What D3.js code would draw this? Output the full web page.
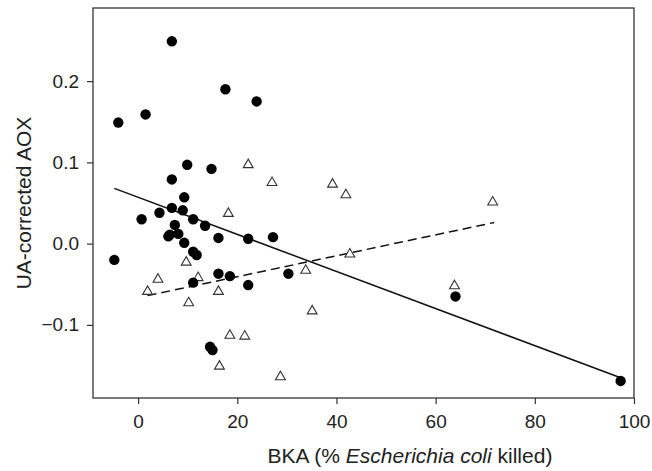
<!DOCTYPE html>
<html>
<head>
<meta charset="utf-8">
<script src="https://cdn.jsdelivr.net/npm/d3@7"></script>
<style>
    body { margin: 0; background: #fff; }
    svg { display: block; font-family: "Liberation Sans", Arial, sans-serif; }
</style>
</head>
<body>
<svg id="chart" width="652" height="471"></svg>
<script>
// Filled circles: [BKA %, UA-corrected AOX]
const circleData = [
    [6.8, 0.249], [17.6, 0.190], [23.9, 0.175], [-4.0, 0.149], [1.5, 0.159],
    [9.9, 0.097], [14.8, 0.092], [6.8, 0.079], [9.3, 0.057], [6.8, 0.044],
    [9.0, 0.041], [4.3, 0.038], [0.7, 0.030], [11.1, 0.030], [13.5, 0.022],
    [7.4, 0.023], [16.2, 0.007], [22.2, 0.006], [27.2, 0.008], [6.4, 0.011],
    [6.1, 0.009], [8.1, 0.012], [9.3, 0.001], [11.1, -0.010], [11.8, -0.014],
    [-4.8, -0.020], [16.2, -0.037], [18.5, -0.040], [11.1, -0.048], [22.2, -0.051],
    [30.3, -0.037], [14.5, -0.127], [15.0, -0.131], [64.0, -0.065], [97.3, -0.169]
];

// Open triangles
const triangleData = [
    [22.2, 0.097], [27.0, 0.075], [18.2, 0.037], [39.2, 0.073], [41.9, 0.060],
    [71.5, 0.051], [9.7, -0.023], [4.0, -0.044], [1.9, -0.059], [12.1, -0.042],
    [16.2, -0.059], [10.2, -0.073], [33.8, -0.033], [35.1, -0.083], [18.5, -0.113],
    [21.5, -0.114], [16.4, -0.151], [28.7, -0.164], [42.7, -0.013], [63.8, -0.052]
];

// Regression lines (end points)
const solidFit = [[-4.8, 0.068], [97.3, -0.165]];
const dashedFit = [[1.9, -0.064], [71.8, 0.026]];

const xTicks = [0, 20, 40, 60, 80, 100];
const yTicks = [-0.1, 0.0, 0.1, 0.2];

const svg = d3.select('#chart');
const plotLeft = 93, plotRight = 634, plotTop = 8, plotBottom = 398;

const x = d3.scaleLinear().domain([-9.1, 100]).range([plotLeft, plotRight]);
const y = d3.scaleLinear().domain([-0.19, 0.29]).range([plotBottom, plotTop]);

// Frame
svg.append('rect')
    .attr('x', plotLeft).attr('y', plotTop)
    .attr('width', plotRight - plotLeft).attr('height', plotBottom - plotTop)
    .attr('fill', 'none')
    .attr('stroke', '#333')
    .attr('stroke-width', 1.3);

// Axes
const xAxis = svg.append('g')
    .attr('transform', 'translate(0,' + plotBottom + ')')
    .call(d3.axisBottom(x).tickValues(xTicks).tickSize(6).tickPadding(11).tickFormat(d3.format('d')));
const yAxis = svg.append('g')
    .attr('transform', 'translate(' + plotLeft + ',0)')
    .call(d3.axisLeft(y).tickValues(yTicks).tickSize(6).tickPadding(8).tickFormat(d3.format('.1f')));

[xAxis, yAxis].forEach(g => {
    g.select('.domain').remove();
    g.selectAll('line').attr('stroke', '#333').attr('stroke-width', 1.2);
    g.selectAll('text')
        .attr('font-family', '"Liberation Sans", Arial, sans-serif')
        .attr('font-size', '19px')
        .attr('fill', '#222');
});

// Regression lines
const line = d3.line().x(d => x(d[0])).y(d => y(d[1]));
svg.append('path')
    .attr('d', line(solidFit))
    .attr('fill', 'none')
    .attr('stroke', '#111')
    .attr('stroke-width', 1.5);
svg.append('path')
    .attr('d', line(dashedFit))
    .attr('fill', 'none')
    .attr('stroke', '#111')
    .attr('stroke-width', 1.5)
    .attr('stroke-dasharray', '9,5');

// Triangles
svg.append('g')
    .selectAll('path')
    .data(triangleData)
    .join('path')
    .attr('d', d3.symbol().type(d3.symbolTriangle).size(42))
    .attr('transform', d => 'translate(' + x(d[0]) + ',' + y(d[1]) + ')')
    .attr('fill', '#fff')
    .attr('stroke', '#333')
    .attr('stroke-width', 1.1);

// Circles
svg.append('g')
    .selectAll('circle')
    .data(circleData)
    .join('circle')
    .attr('cx', d => x(d[0]))
    .attr('cy', d => y(d[1]))
    .attr('r', 5.2)
    .attr('fill', '#000');

// Axis titles
const xTitle = svg.append('text')
    .attr('x', 410).attr('y', 463)
    .attr('text-anchor', 'middle')
    .attr('font-size', '21px')
    .attr('fill', '#222');
xTitle.append('tspan').text('BKA (% ');
xTitle.append('tspan').attr('font-style', 'italic').text('Escherichia coli');
xTitle.append('tspan').text(' killed)');

svg.append('text')
    .attr('transform', 'translate(31,' + ((plotTop + plotBottom) / 2) + ') rotate(-90)')
    .attr('text-anchor', 'middle')
    .attr('font-size', '21px')
    .attr('fill', '#222')
    .text('UA-corrected AOX');
</script>
</body>
</html>
